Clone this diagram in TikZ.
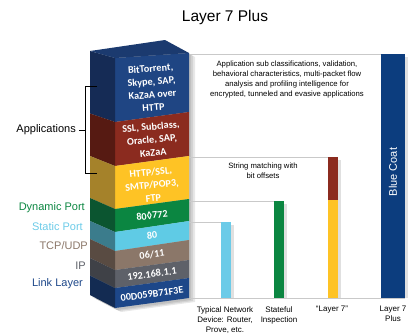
\documentclass[tikz,border=0pt]{standalone}
\usepackage{fontspec}
\setmainfont{Liberation Sans}
\newfontfamily\boxfont{Carlito}
\definecolor{cBlueF}{HTML}{1F4583}\definecolor{cBlueS}{HTML}{152B55}\definecolor{cBlueT}{HTML}{1B3A6F}
\definecolor{cRedF}{HTML}{8B2B1F}\definecolor{cRedS}{HTML}{561A12}
\definecolor{cYelF}{HTML}{FEC325}\definecolor{cYelS}{HTML}{A5822A}
\definecolor{cGrnF}{HTML}{0B8641}\definecolor{cGrnS}{HTML}{0B5530}
\definecolor{cCyaF}{HTML}{5FCBE5}\definecolor{cCyaS}{HTML}{3B7C8C}
\definecolor{cBrnF}{HTML}{8B7769}\definecolor{cBrnS}{HTML}{594B42}
\definecolor{cGryF}{HTML}{5E6169}\definecolor{cGryS}{HTML}{3F4147}
\definecolor{cNavF}{HTML}{1D4789}\definecolor{cNavS}{HTML}{132B52}
\definecolor{cCoat}{HTML}{0C3D7E}
\definecolor{cLine}{HTML}{C9C9C9}
\definecolor{cCyaL}{HTML}{6CCBE8}
\tikzset{
  boxtxt/.style={text=white, font=\boxfont\bfseries\fontsize{10.2}{13}\selectfont, align=center, inner sep=0pt},
  sidelabel/.style={anchor=east, inner sep=0pt, font=\fontsize{11}{13}\selectfont},
  smalltxt/.style={align=center, inner sep=0pt, anchor=north, font=\fontsize{7.7}{10}\selectfont},
  bottomtxt/.style={align=center, inner sep=0pt, anchor=north, font=\fontsize{8}{10}\selectfont},
  guide/.style={draw=cLine, line width=0.8pt},
  barshadow/.style={fill=black, opacity=0.12},
}
\begin{document}
\begin{tikzpicture}[x=1pt,y=-1pt]
\useasboundingbox (0,0) rectangle (420,333);
% title
\node[inner sep=0pt, font=\fontsize{15.5}{18}\selectfont] (title) at (225,17) {Layer 7 Plus};
% box shadow
\foreach \dx/\dy in {2/2,4/3,6/4}
  \fill[black, opacity=0.09] (90+\dx,51+\dy) -- (165+\dx,40+\dy) -- (189+\dx,53+\dy) -- (189+\dx,298+\dy) -- (115+\dx,308+\dy) -- (90+\dx,295+\dy) -- cycle;
% guide lines
\coordinate (bTop) at (189,54);
\coordinate (bRed) at (189,157);
\coordinate (bGrn) at (189,201);
\coordinate (bCya) at (189,222);
\coordinate (bBot) at (189,298);
\coordinate (eTop) at (381,54);
\coordinate (eRed) at (338,157);
\coordinate (eGrn) at (284,201);
\coordinate (eCya) at (231,222);
\coordinate (eBot) at (405,298);
\draw[guide] (bTop) -- (eTop);
\draw[guide] (bRed) -- (eRed);
\draw[guide] (bGrn) -- (eGrn);
\draw[guide] (bCya) -- (eCya);
\draw[guide] (bBot) -- (eBot);
% bar shadows
\fill[barshadow] (224,225) rectangle (234,298);
\fill[barshadow] (277,204) rectangle (287,298);
\fill[barshadow] (331,160) rectangle (341,298);
\fill[barshadow] (384,57) rectangle (408,298);
% bars
\fill[cCyaL] (221,222) rectangle (231,298);
\fill[cGrnF] (274,201) rectangle (284,298);
\fill[cRedF] (328,157) rectangle (338,200);
\fill[cYelF] (328,200) rectangle (338,298);
\fill[cCoat] (381,54) rectangle (405,298);
\node[rotate=90, text=white, inner sep=0pt, font=\fontsize{11}{13}\selectfont] (coat) at (393,172) {Blue Coat};
% box layers
\foreach \a/\b/\c/\d/\e/\f/\cf/\cs in {
  51/58/53/113.5/122/112/cBlueF/cBlueS,
  113.5/122/112/156/166/156/cRedF/cRedS,
  156/166/156/198/209/199/cYelF/cYelS,
  198/209/199/221/232/221/cGrnF/cGrnS,
  221/232/221/239/251/240/cCyaF/cCyaS,
  239/251/240/258/270/260/cBrnF/cBrnS,
  258/270/260/275.5/288/278/cGryF/cGryS,
  275.5/288/278/295/308/298/cNavF/cNavS}{
  \fill[\cf] (115,\b) -- (189,\c) -- (189,\f) -- (115,\e) -- cycle;
  \fill[\cs] (90,\a) -- (115,\b) -- (115,\e) -- (90,\d) -- cycle;
}
\fill[cBlueT] (90,51) -- (165,40) -- (189,53) -- (115,58) -- cycle;
% box texts
\node[boxtxt, rotate=4.3] (tBlue) at (152,88) {BitTorrent,\\Skype, SAP,\\KaZaA over\\HTTP};
\node[boxtxt, rotate=5.2] (tRed) at (152,139.5) {SSL, Subclass,\\Oracle, SAP,\\KaZaA};
\node[boxtxt, rotate=5.9] (tYel) at (152,185) {HTTP/SSL,\\SMTP/POP3,\\FTP};
\node[boxtxt, rotate=6.3] (tGrn) at (152,215.5) {80◊772};
\node[boxtxt, rotate=6.7] (tCya) at (152,235.5) {80};
\node[boxtxt, rotate=7.0] (tBrn) at (152,254.5) {06/11};
\node[boxtxt, rotate=7.3] (tGry) at (152,274) {192.168.1.1};
\node[boxtxt, rotate=7.6] (tNav) at (152,294) {00D059B71F3E};
% left labels
\node[sidelabel] (lApp) at (76,130) {Applications};
\node[sidelabel, text=cGrnF] (lDyn) at (85,208) {Dynamic Port};
\node[sidelabel, text=cCyaL] (lSta) at (83,227) {Static Port};
\node[sidelabel, text=cBrnF] (lTcp) at (88,246) {TCP/UDP};
\node[sidelabel, text=cGryF] (lIp) at (86,266) {IP};
\node[sidelabel, text=cNavF] (lLnk) at (83,284) {Link Layer};
% bracket
\coordinate (brTop) at (97,86);
\coordinate (brBot) at (97,173);
\coordinate (brMid) at (85,130);
\draw[line width=0.8pt] (brTop) -- (85,86) -- (85,173) -- (brBot);
\draw[line width=0.8pt] ([xshift=3pt]lApp.east) -- (brMid);
% descriptions
\node[smalltxt] (dApp) at (287,60.5) {Application sub classifications, validation,\\behavioral characteristics, multi-packet flow\\analysis and profiling intelligence for\\encrypted, tunneled and evasive applications};
\node[smalltxt] (dStr) at (263,162.5) {String matching with\\bit offsets};
% bottom labels
\node[bottomtxt] (bTyp) at (225,306) {Typical Network\\Device: Router,\\Prove, etc.};
\node[bottomtxt] (bSta) at (279,306) {Stateful\\Inspection};
\node[bottomtxt] (bL7) at (332,306) {“Layer 7”};
\node[bottomtxt] (bL7P) at (393,306) {Layer 7\\Plus};
\end{tikzpicture}
\end{document}
